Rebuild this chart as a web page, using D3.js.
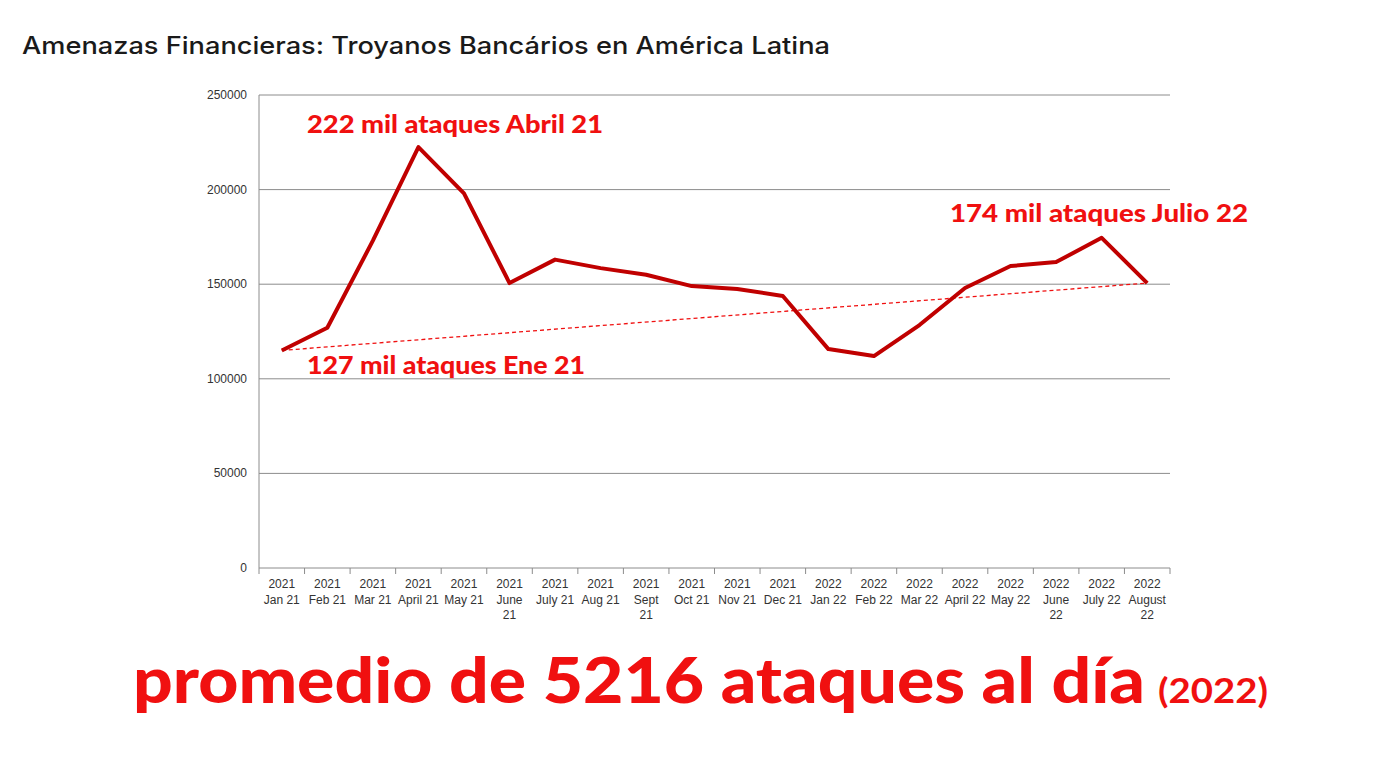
<!DOCTYPE html>
<html><head><meta charset="utf-8">
<script src="https://cdn.jsdelivr.net/npm/d3@7"></script>
<style>body{margin:0;background:#fff}svg{display:block}</style>
</head><body>
<svg id="c" width="1379" height="764"></svg>
<script>
const years = ["2021","2021","2021","2021","2021","2021","2021","2021","2021","2021","2021","2021","2022","2022","2022","2022","2022","2022","2022","2022"];
const months = [["Jan 21"],["Feb 21"],["Mar 21"],["April 21"],["May 21"],["June","21"],["July 21"],["Aug 21"],["Sept","21"],["Oct 21"],["Nov 21"],["Dec 21"],["Jan 22"],["Feb 22"],["Mar 22"],["April 22"],["May 22"],["June","22"],["July 22"],["August","22"]];
const values = [115000,127000,173000,222500,198000,150600,163000,158500,155000,149000,147500,143800,115700,112000,128400,148000,159600,161700,174500,150600];
const trend = [115000,150600];
const yTicks = [0,50000,100000,150000,200000,250000];
const notes = ["222 mil ataques Abril 21","174 mil ataques Julio 22","127 mil ataques Ene 21"];
const svg = d3.select("#c");
const L=259,R=1170,T=95,B=568;
const x = d3.scaleBand().domain(d3.range(values.length)).range([L,R]);
const y = d3.scaleLinear().domain([0,250000]).range([B,T]);
const cx = i => x(i)+x.bandwidth()/2;
const RED="#f01010";

svg.append("text").attr("x",22).attr("y",54).attr("font-family","Inter, 'Open Sans', sans-serif").attr("font-size",24).attr("font-weight",500).attr("fill","#1a1a1a")
 .attr("textLength",808).attr("lengthAdjust","spacingAndGlyphs").text("Amenazas Financieras: Troyanos Bancários en América Latina");

svg.append("g").selectAll("line").data(yTicks).join("line")
 .attr("x1",L).attr("x2",R).attr("y1",d=>y(d)).attr("y2",d=>y(d)).attr("stroke","#8c8c8c").attr("stroke-width",1);
svg.append("g").selectAll("text").data(yTicks).join("text")
 .attr("x",L-12).attr("y",d=>y(d)+4).attr("text-anchor","end").attr("font-family","Arial, 'Liberation Sans', sans-serif").attr("font-size",12).attr("fill","#333").text(d=>d);
svg.append("line").attr("x1",L).attr("x2",L).attr("y1",T).attr("y2",B).attr("stroke","#8c8c8c");
svg.append("g").selectAll("line").data(d3.range(values.length+1)).join("line")
 .attr("x1",i=>L+i*x.bandwidth()).attr("x2",i=>L+i*x.bandwidth()).attr("y1",B).attr("y2",B+6).attr("stroke","#8c8c8c");
const lab = svg.append("g").attr("font-family","Arial, 'Liberation Sans', sans-serif").attr("font-size",12).attr("fill","#333").attr("text-anchor","middle");
years.forEach((yr,i)=>{
 const t=lab.append("text").attr("x",cx(i)).attr("y",B+20);
 [yr,...months[i]].forEach((s,k)=>t.append("tspan").attr("x",cx(i)).attr("dy",k?15.5:0).text(s));
});

svg.append("line").attr("x1",cx(0)).attr("x2",cx(values.length-1)).attr("y1",y(trend[0])).attr("y2",y(trend[1]))
 .attr("stroke",RED).attr("stroke-width",1.3).attr("stroke-dasharray","4,3");
svg.append("path").datum(values).attr("fill","none").attr("stroke","#c00000").attr("stroke-width",4).attr("stroke-linejoin","round")
 .attr("d",d3.line().x((d,i)=>cx(i)).y(d=>y(d)));

const nf = "Lato, Inter, sans-serif";
const pos=[[307,133,296],[950,222,298],[307,374,278]];
notes.forEach((n,k)=>svg.append("text").attr("x",pos[k][0]).attr("y",pos[k][1]).attr("font-family",nf).attr("font-weight",900).attr("font-size",25).attr("fill",RED)
 .attr("textLength",pos[k][2]).attr("lengthAdjust","spacingAndGlyphs").text(n));

svg.append("text").attr("x",133).attr("y",703).attr("font-family",nf).attr("font-weight",900).attr("font-size",62).attr("fill",RED)
 .attr("textLength",1012).attr("lengthAdjust","spacingAndGlyphs").text("promedio de 5216 ataques al día");
svg.append("text").attr("x",1158).attr("y",703).attr("font-family",nf).attr("font-weight",700).attr("font-size",34).attr("fill",RED)
 .attr("textLength",110).attr("lengthAdjust","spacingAndGlyphs").text("(2022)");
</script>
</body></html>
